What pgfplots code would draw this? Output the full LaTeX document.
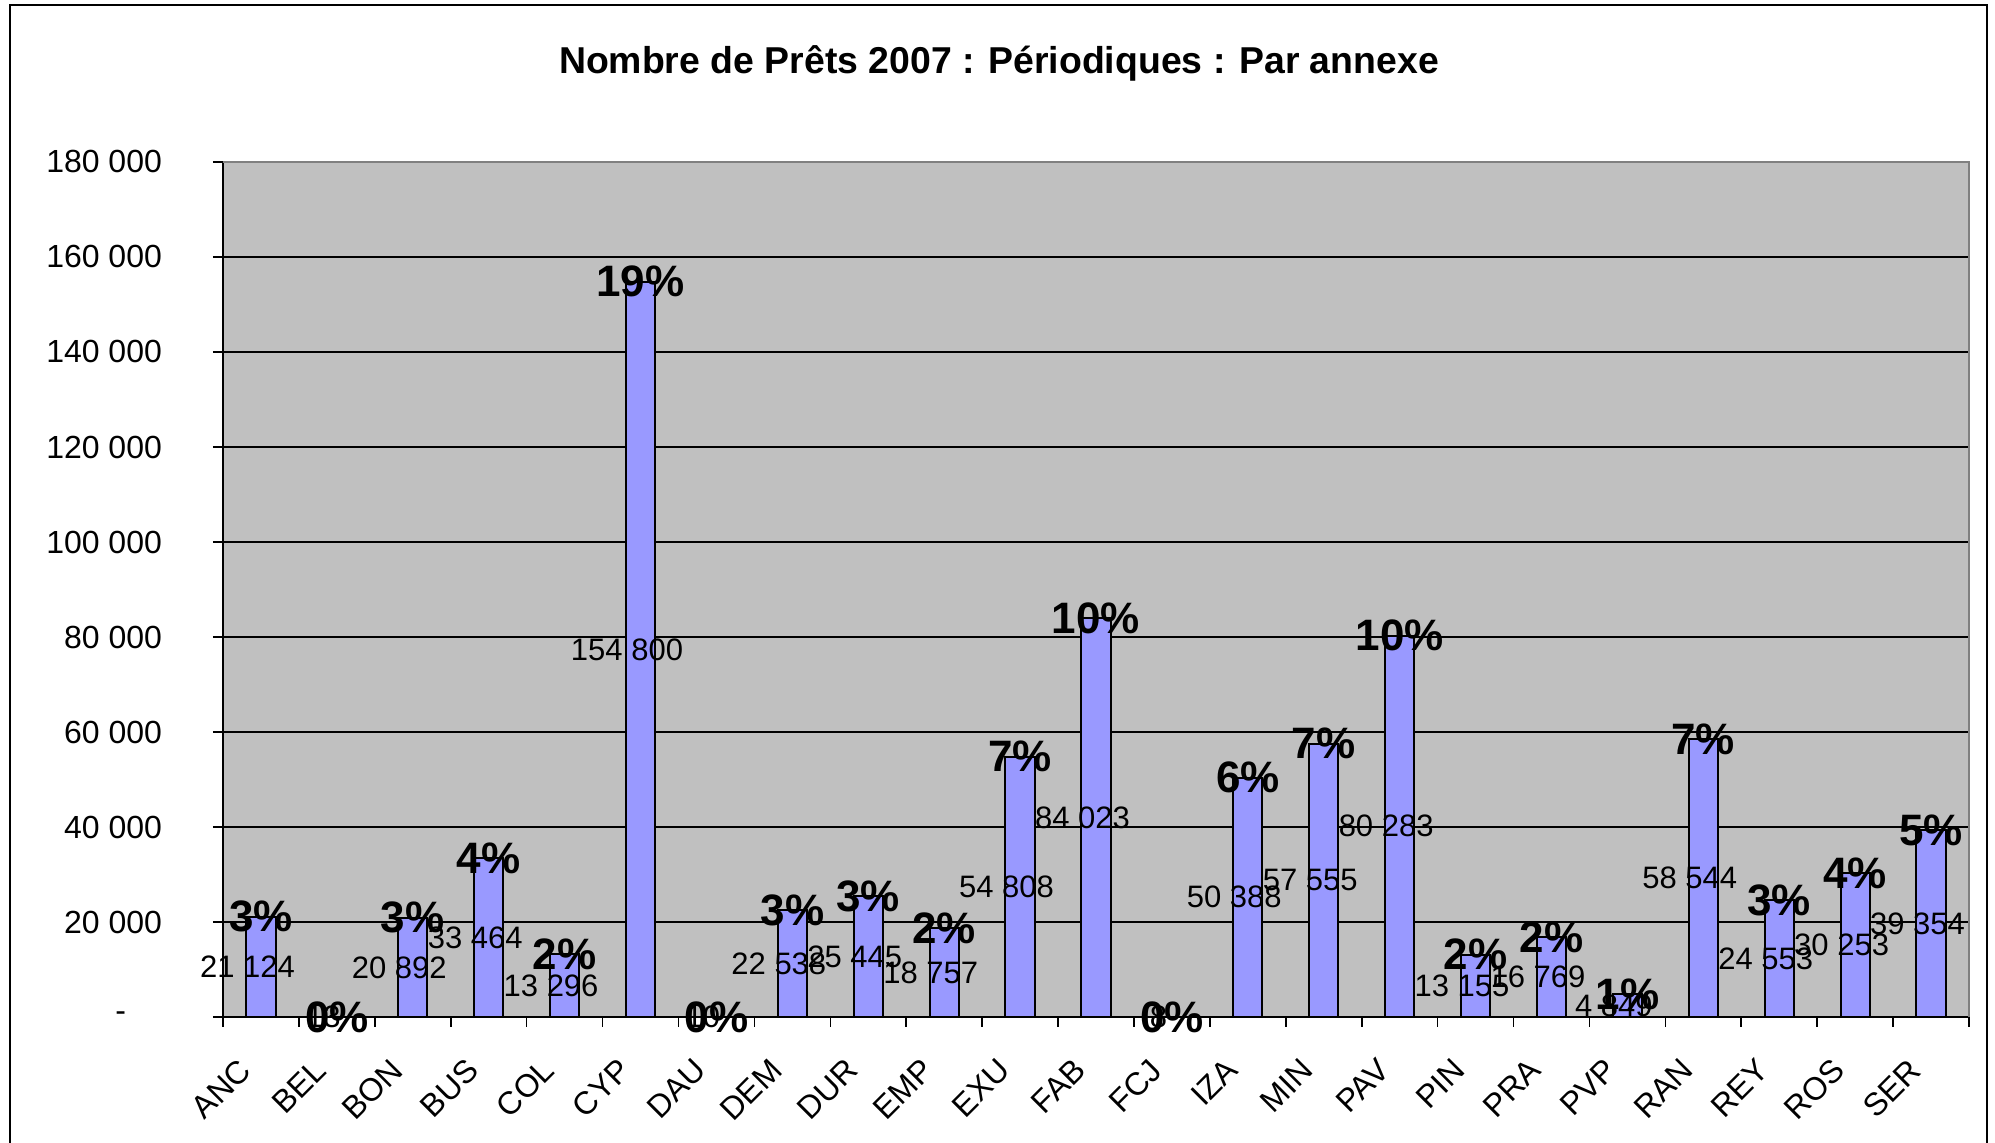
\documentclass[border=0pt]{standalone}
\usepackage{pgfplots}
\pgfplotsset{compat=1.18}
\usepackage{pgfplotstable}
\usepackage{fontspec}
\setmainfont{Liberation Sans}
\definecolor{barfill}{HTML}{9999FF}
\definecolor{plotbg}{HTML}{C0C0C0}
\pgfplotstableread{
x v p
0 21124 3
1 13 0
2 20892 3
3 33464 4
4 13296 2
5 154800 19
6 10 0
7 22538 3
8 25445 3
9 18757 2
10 54808 7
11 84023 10
12 8 0
13 50388 6
14 57555 7
15 80283 10
16 13155 2
17 16769 2
18 4849 1
19 58544 7
20 24553 3
21 30253 4
22 39354 5
}\data
\begin{document}
\begin{tikzpicture}
\useasboundingbox (-111.5pt,-63pt) rectangle (886pt,508.5pt);
\draw[black, line width=1.2pt] (-106.5pt,-70pt) -- (-106.5pt,506pt) -- (882pt,506pt) -- (882pt,-70pt);
\begin{axis}[
  at={(0,0)}, anchor=south west,
  scale only axis, width=873pt, height=427.5pt,
  xmin=-0.5, xmax=22.5, ymin=0, ymax=180000,
  clip=false,
  axis background/.style={fill=plotbg},
  axis lines=left,
  axis line style={-, black, line width=1pt},
  ytick={0,20000,40000,60000,80000,100000,120000,140000,160000,180000},
  yticklabels={{-\hspace*{18pt}},{20 000},{40 000},{60 000},{80 000},{100 000},{120 000},{140 000},{160 000},{180 000}},
  xtick={0,...,22},
  xticklabels={ANC,BEL,BON,BUS,COL,CYP,DAU,DEM,DUR,EMP,EXU,FAB,FCJ,IZA,MIN,PAV,PIN,PRA,PVP,RAN,REY,ROS,SER},
  minor xtick={-0.5,0.5,...,22.5},
  major x tick style={draw=none},
  minor x tick style={draw=black, line width=0.8pt},
  ytick style={draw=black, line width=0.8pt},
  tick align=outside,
  major tick length=5pt, minor tick length=5pt,
  ymajorgrids,
  major grid style={black, line width=0.7pt},
  tick label style={font=\fontsize{16}{19}\selectfont},
  yticklabel style={xshift=-22pt},
  xticklabel style={xshift=-12pt, yshift=-10pt, rotate=45, anchor=north east},
  scaled y ticks=false,
  /pgf/number format/assume math mode=true,
]
\draw[gray, line width=1pt] (rel axis cs:0,1) -- (rel axis cs:1,1) -- (rel axis cs:1,0);
\addplot[ybar, bar width=14.6pt, fill=barfill, draw=black, line width=1pt] table[x=x,y=v]{\data};
\addplot[only marks, mark=none, point meta={\thisrow{v}},
  nodes near coords={\pgfmathprintnumber[fixed,precision=0,1000 sep={\ }]{\pgfplotspointmeta}},
  every node near coord/.append style={anchor=center, xshift=-6.75pt, font=\fontsize{15.5}{18}\selectfont}]
  table[x=x, y expr=\thisrow{v}/2]{\data};
\addplot[only marks, mark=none, point meta={\thisrow{p}},
  nodes near coords={\pgfmathprintnumber[fixed,precision=0]{\pgfplotspointmeta}\%},
  every node near coord/.append style={anchor=center, font=\bfseries\fontsize{22}{26}\selectfont}]
  table[x=x, y=v]{\data};
\end{axis}
\node[font=\bfseries\fontsize{18.7}{22}\selectfont] at (388pt,476.7pt) {Nombre de Prêts 2007 : Périodiques : Par annexe};
\end{tikzpicture}
\end{document}
